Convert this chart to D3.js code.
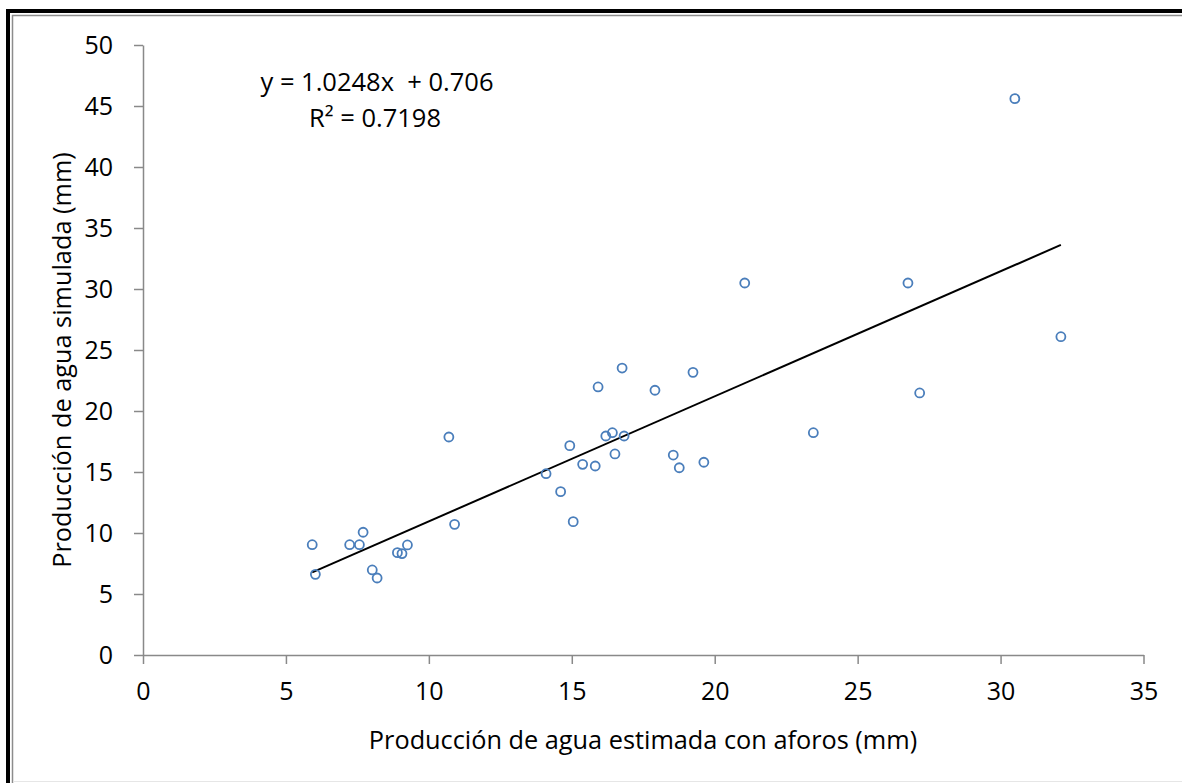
<!DOCTYPE html>
<html>
<head>
<meta charset="utf-8">
<script src="https://cdn.jsdelivr.net/npm/d3@7"></script>
<style>
  html, body { margin: 0; padding: 0; background: #fff; }
  svg { display: block; }
  text { font-family: "Open Sans", "Noto Sans", sans-serif; fill: #000; white-space: pre; }
</style>
</head>
<body>
<svg id="chart" width="1182" height="783"></svg>
<script>
// Data
const estimada = [5.92, 6.03, 7.23, 7.57, 7.70, 8.02, 8.19, 8.90, 9.06, 9.25, 10.70, 10.90,
  14.10, 14.61, 14.93, 15.05, 15.38, 15.82, 15.92, 16.19, 16.42, 16.51, 16.76, 16.83,
  17.91, 18.55, 18.76, 19.24, 19.62, 21.05, 23.45, 26.76, 27.17, 30.50, 32.11];
const simulada = [9.04, 6.61, 9.04, 9.04, 10.06, 6.97, 6.31, 8.39, 8.31, 9.02, 17.87, 10.71,
  14.86, 13.39, 17.16, 10.93, 15.63, 15.49, 21.97, 17.95, 18.22, 16.48, 23.52, 17.95,
  21.70, 16.39, 15.35, 23.17, 15.80, 30.49, 18.22, 30.49, 21.48, 45.60, 26.09];
const xTicks = [0, 5, 10, 15, 20, 25, 30, 35];
const yTicks = [0, 5, 10, 15, 20, 25, 30, 35, 40, 45, 50];
const slope = 1.0248, intercept = 0.706;
const eqLabel = "y = 1.0248x  + 0.706";
const r2Label = "R² = 0.7198";
const xTitle = "Producción de agua estimada con aforos (mm)";
const yTitle = "Producción de agua simulada (mm)";

const svg = d3.select("#chart");

// frame (double border on top/left)
svg.append("line").attr("x1", 6).attr("x2", 1182).attr("y1", 11).attr("y2", 11)
  .attr("stroke", "#000").attr("stroke-width", 4);
svg.append("line").attr("x1", 8).attr("x2", 8).attr("y1", 9).attr("y2", 783)
  .attr("stroke", "#000").attr("stroke-width", 4);
svg.append("line").attr("x1", 12).attr("x2", 1182).attr("y1", 15.5).attr("y2", 15.5)
  .attr("stroke", "#8c8c8c").attr("stroke-width", 1.5);
svg.append("line").attr("x1", 12.5).attr("x2", 12.5).attr("y1", 15).attr("y2", 783)
  .attr("stroke", "#8c8c8c").attr("stroke-width", 1.5);
svg.append("line").attr("x1", 13).attr("x2", 1182).attr("y1", 781.5).attr("y2", 781.5)
  .attr("stroke", "#e6e6e6").attr("stroke-width", 1);

const x = d3.scaleLinear().domain([0, 35]).range([143, 1143.5]);
const y = d3.scaleLinear().domain([0, 50]).range([655, 45]);

const axisColor = "#898989";

const gx = svg.append("g").attr("transform", `translate(0,${y(0)})`)
  .call(d3.axisBottom(x).tickValues(xTicks).tickSize(9).tickSizeOuter(0).tickPadding(18));
const gy = svg.append("g").attr("transform", `translate(${x(0)},0)`)
  .call(d3.axisLeft(y).tickValues(yTicks).tickSize(9).tickSizeOuter(0).tickPadding(21));
[gx, gy].forEach(g => {
  g.select(".domain").attr("stroke", axisColor).attr("stroke-width", 1.5);
  g.selectAll(".tick line").attr("stroke", axisColor).attr("stroke-width", 1.5);
  g.selectAll(".tick text").attr("font-family", '"Open Sans", sans-serif')
    .attr("font-size", 25).attr("fill", "#000");
});

// trend line
const xMin = d3.min(estimada), xMax = d3.max(estimada);
svg.append("line")
  .attr("x1", x(xMin)).attr("y1", y(slope * xMin + intercept))
  .attr("x2", x(xMax)).attr("y2", y(slope * xMax + intercept))
  .attr("stroke", "#000").attr("stroke-width", 2);

// points
svg.append("g").selectAll("circle").data(estimada.map((v, i) => [v, simulada[i]]))
  .join("circle")
  .attr("cx", d => x(d[0])).attr("cy", d => y(d[1])).attr("r", 4.5)
  .attr("fill", "none").attr("stroke", "#4a7ebb").attr("stroke-width", 1.8);

// equation
svg.append("text").attr("x", 377).attr("y", 91).attr("text-anchor", "middle")
  .attr("font-size", 25.5).text(eqLabel);
svg.append("text").attr("x", 375).attr("y", 127).attr("text-anchor", "middle")
  .attr("font-size", 25.5).text(r2Label);

// axis titles
svg.append("text").attr("x", 643).attr("y", 749).attr("text-anchor", "middle")
  .attr("font-size", 25.3).text(xTitle);
svg.append("text").attr("transform", `translate(71,360) rotate(-90)`)
  .attr("text-anchor", "middle").attr("font-size", 25.3).text(yTitle);
</script>
</body>
</html>
